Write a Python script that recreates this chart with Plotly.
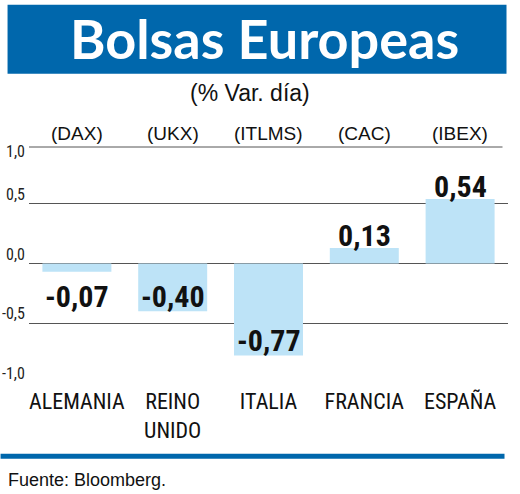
import plotly.graph_objects as go

# data
paises = ['ALEMANIA', 'REINO<br>UNIDO', 'ITALIA', 'FRANCIA', 'ESPAÑA']
indices = ['(DAX)', '(UKX)', '(ITLMS)', '(CAC)', '(IBEX)']
variacion = [-0.07, -0.40, -0.77, 0.13, 0.54]
etiquetas = ['-0,07', '-0,40', '-0,77', '0,13', '0,54']
y_ticks = [1.0, 0.5, 0.0, -0.5, -1.0]
y_labels = ['1,0', '0,5', '0,0', '-0,5', '-1,0']

W, H = 520, 494
# plot area in pixels
L, R, T, B = 28.5, 508.5, 143.5, 383.0

AZUL = '#0067ac'
CELESTE = '#bde3f7'
COND = 'Roboto Condensed, DejaVu Sans Condensed, sans-serif'
SANS = 'Liberation Sans, Arial, Helvetica, sans-serif'


def px(x):
    return (x - L) / (R - L)


def py(y):
    return (B - y) / (B - T)


fig = go.Figure()
fig.add_trace(go.Bar(
    x=list(range(len(paises))),
    y=variacion,
    width=0.72,
    marker=dict(color=CELESTE, line_width=0),
    hoverinfo='skip',
))

fig.update_layout(
    width=W, height=H,
    margin=dict(l=L, r=W - R, t=T, b=H - B, pad=0),
    paper_bgcolor='white',
    plot_bgcolor='white',
    showlegend=False,
    xaxis=dict(
        range=[-0.5, 4.5],
        tickmode='array',
        tickvals=list(range(len(paises))),
        ticktext=paises,
        tickfont=dict(family=COND, size=22, color='#111111'),
        showgrid=False, zeroline=False, showline=False,
        ticks='', ticklabelstandoff=3,
    ),
    yaxis=dict(
        range=[-1.0, 1.0],
        tickvals=y_ticks,
        showticklabels=False,
        showgrid=True, gridcolor='#555555', gridwidth=1,
        zeroline=False, showline=False, ticks='',
    ),
)

# value labels: above positive bars, at the foot of long negative bars,
# under short negative bars
for i, (v, lab) in enumerate(zip(variacion, etiquetas)):
    if v >= 0:
        shift = 12
    elif v < -0.2:
        shift = 15
    else:
        shift = -25
    fig.add_annotation(
        x=i, xref='x', y=v, yref='y', yanchor='middle', yshift=shift,
        text='<b>%s</b>' % lab, showarrow=False,
        font=dict(family=COND, size=30, color='#111111'),
    )

# y tick labels sit just above their gridlines (the top one just below)
for v, lab in zip(y_ticks, y_labels):
    top = v == max(y_ticks)
    fig.add_annotation(
        x=px(25), xref='paper', xanchor='right',
        y=v, yref='y', yanchor='top' if top else 'bottom',
        yshift=3 if top else -1,
        text=lab, showarrow=False, borderpad=0,
        font=dict(family=COND, size=16, color='#222222'),
    )

# index names above the plot
for i, idx in enumerate(indices):
    fig.add_annotation(
        x=i, xref='x', y=max(y_ticks), yref='y', yanchor='bottom', yshift=-2,
        text=idx, showarrow=False,
        font=dict(family=SANS, size=19, color='#111111'),
    )

# second rule under the top gridline
fig.add_shape(type='line', xref='paper', x0=0, x1=px(503),
              yref='y', ysizemode='pixel', yanchor=1.0, y0=-3, y1=-3,
              line=dict(color='#555555', width=1))

# title banner
fig.add_shape(type='rect', xref='paper', yref='paper',
              x0=px(7), x1=px(507), y0=py(73), y1=py(4),
              fillcolor=AZUL, line_width=0, layer='below')
fig.add_annotation(
    x=px(264), xref='paper', y=py(38), yref='paper', yanchor='middle',
    text='<b>Bolsas Europeas</b>', showarrow=False,
    font=dict(family='Lato, Open Sans, sans-serif', size=54, color='white'),
)
fig.add_annotation(
    x=px(250), xref='paper', y=py(92), yref='paper', yanchor='middle',
    text='(% Var. día)', showarrow=False,
    font=dict(family=SANS, size=23, color='#111111'),
)

# footer rule and source
fig.add_shape(type='rect', xref='paper', yref='paper',
              x0=px(0), x1=px(505), y0=py(459), y1=py(454),
              fillcolor=AZUL, line_width=0)
fig.add_annotation(
    x=px(5), xref='paper', xanchor='left', y=py(480), yref='paper', yanchor='middle',
    text='Fuente: Bloomberg.', showarrow=False,
    font=dict(family=SANS, size=18, color='#111111'),
)

# drop the default body margin so the figure fills the window exactly
fig.write_html('out.html', config={'displayModeBar': False},
               post_script="document.body.style.margin='0';")
